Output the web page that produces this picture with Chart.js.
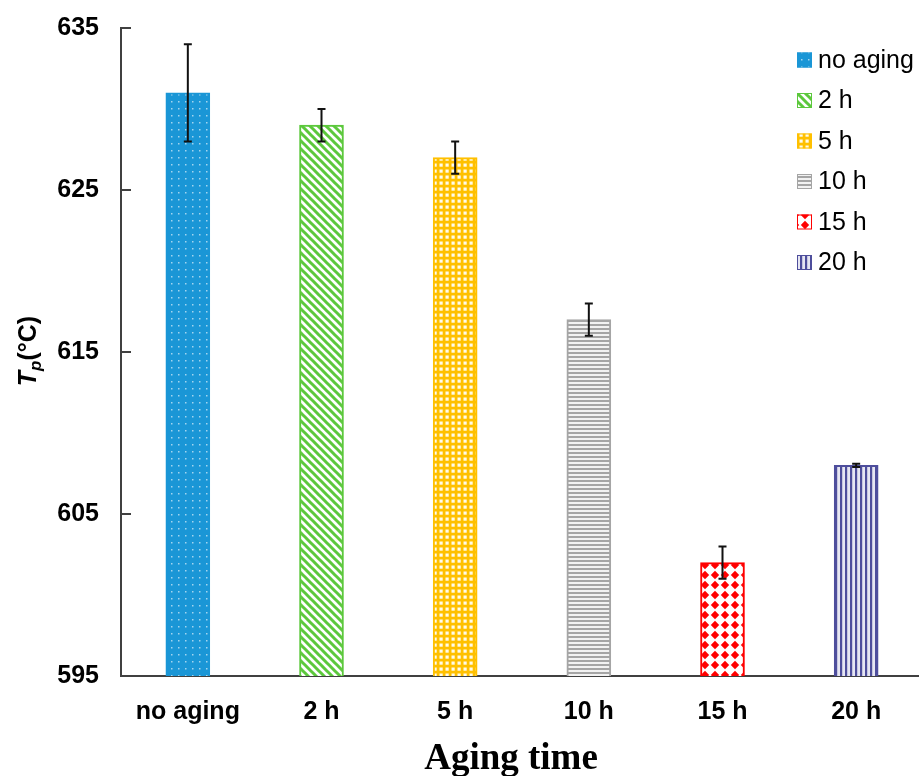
<!DOCTYPE html>
<html>
<head>
<meta charset="utf-8">
<script src="https://cdn.jsdelivr.net/npm/chart.js@4.4.1/dist/chart.umd.min.js"></script>
<style>
  html, body { margin: 0; padding: 0; background: #fff; overflow: hidden; }
  #wrap { width: 923px; height: 776px; }
</style>
</head>
<body>
<div id="wrap"><canvas id="myChart" width="923" height="776"></canvas></div>
<script>
// data
var categories = ['no aging', '2 h', '5 h', '10 h', '15 h', '20 h'];
var tpValues = [631, 629, 627, 617, 602, 608];
var tpErrors = [3, 1, 1, 1, 1, 0.1];
var yTicks = [595, 605, 615, 625, 635];

var solid = ['#1a96d6', '#5cc83c', '#ffc000', '#a5a5a5', '#ff0000', '#4e4e9c'];
var sansFont = '"Liberation Sans", Arial, sans-serif';

function makePattern(size, draw) {
  var c = document.createElement('canvas');
  c.width = size; c.height = size;
  var g = c.getContext('2d');
  draw(g, size);
  return g.createPattern(c, 'repeat');
}

var patterns = [
  // dotted blue
  makePattern(7, function (g, s) {
    g.fillStyle = solid[0]; g.fillRect(0, 0, s, s);
    g.fillStyle = 'rgba(255,255,255,0.6)'; g.fillRect(3, 3, 1.5, 1.5);
  }),
  // green "\" stripes
  makePattern(8, function (g, s) {
    g.fillStyle = '#fff'; g.fillRect(0, 0, s, s);
    g.strokeStyle = solid[1]; g.lineWidth = 3;
    g.beginPath();
    g.moveTo(-2, -2); g.lineTo(s + 2, s + 2);
    g.moveTo(-2, s - 2); g.lineTo(2, s + 2);
    g.moveTo(s - 2, -2); g.lineTo(s + 2, 2);
    g.stroke();
  }),
  // yellow grid with white squares
  makePattern(6, function (g, s) {
    g.fillStyle = solid[2]; g.fillRect(0, 0, s, s);
    g.fillStyle = '#fffbea'; g.fillRect(1.5, 1.5, 3.2, 3.2);
  }),
  // grey horizontal stripes
  makePattern(4, function (g, s) {
    g.fillStyle = '#f2f2f2'; g.fillRect(0, 0, s, s);
    g.fillStyle = solid[3]; g.fillRect(0, 0, s, 2);
  }),
  // red diamonds on white
  makePattern(10, function (g, s) {
    g.fillStyle = '#fff'; g.fillRect(0, 0, s, s);
    g.fillStyle = solid[4];
    g.beginPath();
    g.moveTo(5, 0.8); g.lineTo(9.2, 5); g.lineTo(5, 9.2); g.lineTo(0.8, 5);
    g.closePath(); g.fill();
  }),
  // navy vertical stripes
  makePattern(5, function (g, s) {
    g.fillStyle = '#e6e6f2'; g.fillRect(0, 0, s, s);
    g.fillStyle = solid[5]; g.fillRect(0, 0, 2.2, s);
  })
];

var errorBars = {
  id: 'errorBars',
  afterDatasetsDraw: function (chart) {
    var ctx = chart.ctx;
    var y = chart.scales.y;
    var meta = chart.getDatasetMeta(0);
    ctx.save();
    ctx.strokeStyle = '#111';
    ctx.lineWidth = 2;
    meta.data.forEach(function (bar, i) {
      var top = y.getPixelForValue(tpValues[i] + tpErrors[i]);
      var bot = y.getPixelForValue(tpValues[i] - tpErrors[i]);
      ctx.beginPath();
      ctx.moveTo(bar.x, top); ctx.lineTo(bar.x, bot);
      ctx.moveTo(bar.x - 4, top); ctx.lineTo(bar.x + 4, top);
      ctx.moveTo(bar.x - 4, bot); ctx.lineTo(bar.x + 4, bot);
      ctx.stroke();
    });
    ctx.restore();
  }
};

var decorations = {
  id: 'decorations',
  afterDraw: function (chart) {
    var ctx = chart.ctx;
    var area = chart.chartArea;
    var y = chart.scales.y;
    ctx.save();

    // inner tick marks on the y axis
    ctx.strokeStyle = '#404040';
    ctx.lineWidth = 2;
    yTicks.forEach(function (v) {
      if (v === yTicks[0]) return;
      var py = y.getPixelForValue(v);
      ctx.beginPath();
      ctx.moveTo(area.left, py); ctx.lineTo(area.left + 10, py);
      ctx.stroke();
    });

    // legend
    ctx.textAlign = 'left';
    ctx.textBaseline = 'middle';
    ctx.font = '25px ' + sansFont;
    categories.forEach(function (name, i) {
      var ly = 60 + 40.5 * i;
      ctx.fillStyle = patterns[i];
      ctx.fillRect(797, ly - 7.5, 15, 15);
      ctx.strokeStyle = solid[i];
      ctx.lineWidth = 1;
      ctx.strokeRect(797.5, ly - 7, 14, 14);
      ctx.fillStyle = '#000';
      ctx.fillText(name, 818, ly + 1);
    });

    // x axis title
    ctx.fillStyle = '#000';
    ctx.textAlign = 'center';
    ctx.textBaseline = 'alphabetic';
    ctx.font = 'bold 37px "Liberation Serif", "Times New Roman", serif';
    ctx.fillText('Aging time', 511, 769);

    // y axis title: T (italic) with subscript p, then (°C)
    ctx.translate(36, 351);
    ctx.rotate(-Math.PI / 2);
    var fT = 'italic bold 25px ' + sansFont;
    var fP = 'italic bold 17px ' + sansFont;
    var fC = 'bold 25px ' + sansFont;
    ctx.font = fT; var wT = ctx.measureText('T').width;
    ctx.font = fP; var wP = ctx.measureText('p').width;
    ctx.font = fC; var wC = ctx.measureText('(°C)').width;
    var x0 = -(wT + wP + wC) / 2;
    ctx.textAlign = 'left';
    ctx.font = fT; ctx.fillText('T', x0, 0);
    ctx.font = fP; ctx.fillText('p', x0 + wT, 5);
    ctx.font = fC; ctx.fillText('(°C)', x0 + wT + wP, 0);
    ctx.restore();
  }
};

var ctx = document.getElementById('myChart');

var data = {
  labels: categories,
  datasets: [
    {
      label: 'Tp',
      data: tpValues,
      backgroundColor: patterns,
      borderColor: solid,
      borderWidth: 2,
      borderSkipped: false,
      barThickness: 44
    }
  ]
};

var myBarChart = new Chart(ctx, {
  type: 'bar',
  data: data,
  plugins: [errorBars, decorations],
  options: {
    responsive: false,
    animation: false,
    layout: { padding: { top: 28, right: 0, bottom: 0, left: 0 } },
    plugins: {
      legend: { display: false },
      tooltip: { enabled: false }
    },
    scales: {
      x: {
        grid: { display: false, drawTicks: false },
        border: { color: '#404040', width: 2 },
        ticks: {
          color: '#000',
          padding: 21,
          font: { family: sansFont, size: 25, weight: 'bold' }
        },
        afterFit: function (s) { s.height = 100; }
      },
      y: {
        min: 595,
        max: 635,
        afterBuildTicks: function (s) {
          s.ticks = yTicks.map(function (v) { return { value: v }; });
        },
        grid: { display: false, drawTicks: false },
        border: { color: '#404040', width: 2 },
        ticks: {
          color: '#000',
          padding: 22,
          font: { family: sansFont, size: 25, weight: 'bold' }
        },
        afterFit: function (s) {
          s.width = 121;
          s.paddingTop = 0;
          s.paddingBottom = 0;
        }
      }
    }
  }
});
</script>
</body>
</html>
